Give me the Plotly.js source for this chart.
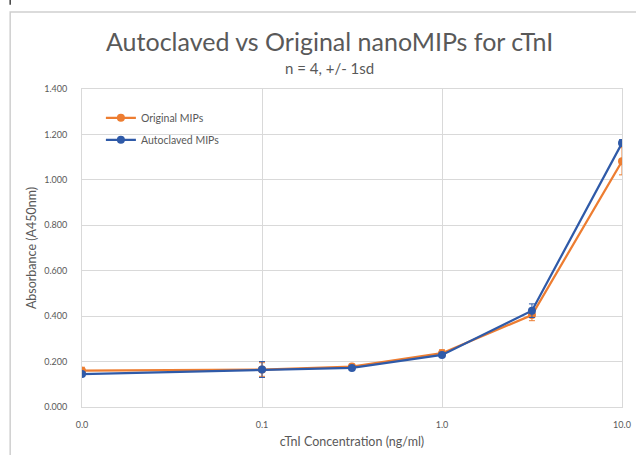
<!DOCTYPE html>
<html>
<head>
<meta charset="utf-8">
<script src="https://cdn.plot.ly/plotly-3.0.1.min.js"></script>
<style>
  html, body { margin: 0; padding: 0; background: #ffffff; }
  #chart { width: 636px; height: 455px; }
</style>
</head>
<body>
<div id="chart"></div>
<script>
// cTnI concentrations (ng/ml); the blank is placed at 0.01 on the log axis
const concentrations = [0.01, 0.1, 0.316, 1.0, 3.16, 10.0];

const originalMean = [0.160, 0.165, 0.178, 0.237, 0.405, 1.082];
const originalSd   = [0.015, 0.030, 0.010, 0.015, 0.025, 0.060];

const autoclavedMean = [0.145, 0.165, 0.172, 0.229, 0.424, 1.162];
const autoclavedSd   = [0.010, 0.035, 0.010, 0.010, 0.030, 0.015];

const xTickVals = [0.01, 0.1, 1, 10];
const xTickText = ["0.0", "0.1", "1.0", "10.0"];

const seriesNames = ["Original MIPs", "Autoclaved MIPs"];

const chartTitle = "Autoclaved vs Original nanoMIPs for cTnI";
const chartSubtitle = "n = 4, +/- 1sd";

const FONT = "Lato, 'Open Sans', sans-serif";
const GREY = "#595959";

function series(name, y, err, color, group) {
  return {
    type: "scatter",
    mode: "lines+markers",
    name: name,
    legendgroup: group,
    x: concentrations,
    y: y,
    line: { color: color, width: 2.25 },
    marker: { color: color, size: 8 },
    error_y: { type: "data", array: err, visible: true, color: color, thickness: 1, width: 3 }
  };
}

const data = [
  series(seriesNames[0], originalMean, originalSd, "#ED7D31", "orig"),
  series(seriesNames[1], autoclavedMean, autoclavedSd, "#2F5AA8", "auto")
];

const layout = {
  width: 636,
  height: 455,
  margin: { l: 82, r: 14, t: 89, b: 48 },
  paper_bgcolor: "#ffffff",
  plot_bgcolor: "#ffffff",
  font: { family: FONT, color: GREY, size: 9 },
  showlegend: true,
  xaxis: {
    type: "log",
    range: [-2, 1],
    tickvals: xTickVals,
    ticktext: xTickText,
    showgrid: true,
    gridcolor: "#d9d9d9",
    gridwidth: 1,
    showline: true,
    linecolor: "#d9d9d9",
    mirror: true,
    ticks: "",
    zeroline: false,
    ticklabelstandoff: 9,
    tickfont: { family: FONT, size: 9, color: GREY },
    title: {
      text: "cTnI Concentration (ng/ml)",
      font: { family: FONT, size: 12.5, color: GREY },
      standoff: 8
    }
  },
  yaxis: {
    range: [0, 1.4],
    dtick: 0.2,
    tick0: 0,
    tickformat: ".3f",
    showgrid: true,
    gridcolor: "#d9d9d9",
    gridwidth: 1,
    showline: true,
    linecolor: "#d9d9d9",
    mirror: true,
    ticks: "",
    zeroline: false,
    ticklabelstandoff: 12,
    tickfont: { family: FONT, size: 9, color: GREY },
    title: {
      text: "Absorbance (A450nm)",
      font: { family: FONT, size: 12.5, color: GREY },
      standoff: 4
    }
  },
  legend: {
    x: 0.035,
    y: 0.955,
    xanchor: "left",
    yanchor: "top",
    bgcolor: "rgba(0,0,0,0)",
    font: { family: FONT, size: 10.5, color: GREY },
    itemwidth: 30,
    tracegroupgap: 3
  },
  annotations: [
    {
      text: chartTitle,
      xref: "paper", yref: "paper",
      x: 0.458, y: 1.152,
      xanchor: "center", yanchor: "middle",
      showarrow: false,
      font: { family: FONT, size: 25, color: GREY }
    },
    {
      text: chartSubtitle,
      xref: "paper", yref: "paper",
      x: 0.458, y: 1.066,
      xanchor: "center", yanchor: "middle",
      showarrow: false,
      font: { family: FONT, size: 15, color: GREY }
    }
  ],
  shapes: [
    {
      type: "rect",
      xref: "paper", yref: "paper",
      x0: -0.133, x1: 1.2, y0: -0.3, y1: 1.242,
      line: { color: "#cfcfcf", width: 1.5 },
      fillcolor: "rgba(0,0,0,0)",
      layer: "below"
    },
    {
      type: "line",
      xref: "paper", yref: "paper",
      x0: -0.133, x1: -0.133, y0: 1.265, y1: 1.285,
      line: { color: "#404040", width: 1.5 }
    }
  ]
};

Plotly.newPlot("chart", data, layout, { displayModeBar: false, staticPlot: true });
</script>
</body>
</html>
